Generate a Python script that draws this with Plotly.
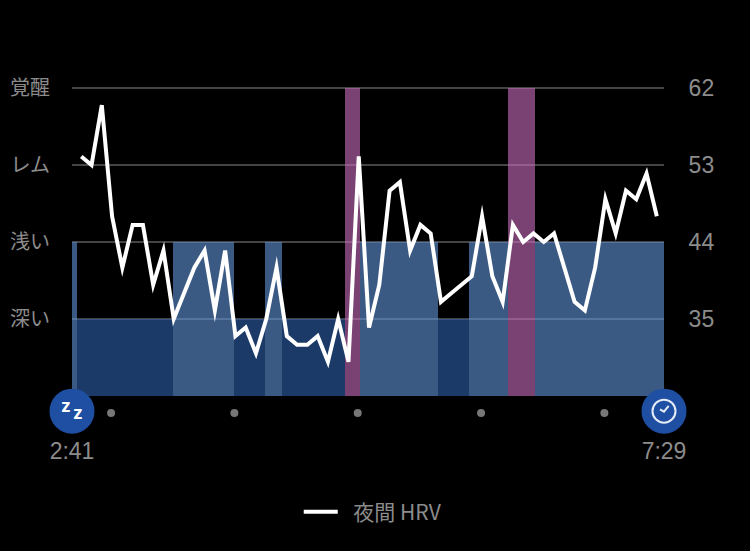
import plotly.graph_objects as go

# minutes since 2:41
hrv_minutes = [4.5, 9.5, 14.5, 19.5, 24.5, 29.5, 34.5, 39.5, 44.5, 49.5,
               54.5, 59.5, 64.5, 69.5, 74.5, 79.5, 84.5, 89.5, 94.5, 99.5,
               104.5, 109.5, 114.5, 119.5, 124.5, 129.5, 134.5, 139.5, 144.5, 149.5,
               154.5, 159.5, 164.5, 169.5, 174.5, 179.5, 184.5, 189.5, 194.5, 199.5,
               204.5, 209.5, 214.5, 219.5, 224.5, 229.5, 234.5, 239.5, 244.5, 249.5,
               254.5, 259.5, 264.5, 269.5, 274.5, 279.5, 284.5]
hrv_values = [54, 53, 60, 47, 41, 46, 46, 39, 43, 35,
              38, 41, 43, 36, 43, 33, 34, 31, 35, 41,
              33, 32, 32, 33, 30, 35, 30, 54, 34, 39,
              50, 51, 43, 46, 45, 37, 38, 39, 40, 47,
              40, 37, 46, 44, 45, 44, 45, 41, 37, 36,
              41, 49, 45, 50, 49, 52, 47]

stage_start = [0, 2.4, 49, 79, 94, 102, 133, 140, 178, 193, 212, 225]
stage_end = [2.4, 49, 79, 94, 102, 133, 140, 178, 193, 212, 225, 288]
stage_names = ['light', 'deep', 'light', 'deep', 'light', 'deep', 'awake',
               'light', 'deep', 'light', 'awake', 'light']

stage_levels = {'deep': 35, 'light': 44, 'awake': 62}
stage_colors = {'deep': 'rgb(47,97,172)', 'light': 'rgb(97,150,218)', 'awake': 'rgb(203,110,190)'}

hour_dots = [19, 79, 139, 199, 259]
y_ticks = [62, 53, 44, 35]
left_labels = ['覚醒', 'レム', '浅い', '深い']
right_labels = ['62', '53', '44', '35']
time_ticks = [0, 288]
time_labels = ['2:41', '7:29']

FONT = 'Noto Sans CJK JP'
GREY = '#8c8c8c'
BASE = 26
TOP = 62.35
BADGE_Y = 24.23
STRIP = 40 / 351  # part of the plot height kept for the badges under the axis

fig = go.Figure()

# Sleep stage blocks
fig.add_trace(go.Bar(
    x=[(a + b) / 2 for a, b in zip(stage_start, stage_end)],
    y=[stage_levels[s] - BASE for s in stage_names],
    base=BASE,
    width=[b - a for a, b in zip(stage_start, stage_end)],
    marker=dict(color=[stage_colors[s] for s in stage_names], line_width=0),
    opacity=0.6,
    showlegend=False,
    hoverinfo='skip'
))

# HRV line
fig.add_trace(go.Scatter(
    x=hrv_minutes,
    y=hrv_values,
    mode='lines',
    name='\u2002夜間 HRV',
    line=dict(color='white', width=4)
))

# Invisible trace so the right axis shows up
fig.add_trace(go.Scatter(
    x=[0, 288],
    y=[BASE, 62],
    yaxis='y2',
    mode='lines',
    line=dict(color='rgba(0,0,0,0)'),
    showlegend=False,
    hoverinfo='skip'
))

# Hour dots under the axis
fig.add_trace(go.Scatter(
    x=hour_dots,
    y=[24] * len(hour_dots),
    yaxis='y3',
    mode='markers',
    marker=dict(color='#777777', size=8),
    cliponaxis=False,
    showlegend=False,
    hoverinfo='skip'
))

# Start and end badges
fig.add_trace(go.Scatter(
    x=time_ticks,
    y=[BADGE_Y, BADGE_Y],
    yaxis='y3',
    mode='markers',
    marker=dict(color='#1f4fa3', size=45),
    cliponaxis=False,
    showlegend=False,
    hoverinfo='skip'
))

# Clock icon
fig.add_trace(go.Scatter(
    x=[288],
    y=[BADGE_Y],
    yaxis='y3',
    mode='markers',
    marker=dict(color='rgba(0,0,0,0)', size=23, line=dict(color='#e4ebf7', width=2)),
    cliponaxis=False,
    showlegend=False,
    hoverinfo='skip'
))
fig.add_shape(
    type='path',
    xref='paper',
    yref='paper',
    path='M 0.9932 0.0761 L 1.0 0.0692 L 1.0079 0.0855',
    line=dict(color='#e4ebf7', width=2)
)

# zZ icon
fig.add_annotation(x=0, y=BADGE_Y, xref='x', yref='y3', text='<b>z</b>', showarrow=False,
                   xshift=-6, yshift=5, font=dict(family='Inter', size=17, color='white'))
fig.add_annotation(x=0, y=BADGE_Y, xref='x', yref='y3', text='<b>z</b>', showarrow=False,
                   xshift=6, yshift=-2, font=dict(family='Inter', size=17, color='white'))

fig.update_layout(
    width=750,
    height=551,
    margin=dict(l=72, r=86, t=85, b=115),
    paper_bgcolor='black',
    plot_bgcolor='rgba(0,0,0,0)',
    barmode='overlay',
    bargap=0,
    font=dict(family=FONT, color=GREY, size=20),
    xaxis=dict(
        automargin=False,
        range=[0, 288],
        tickvals=time_ticks,
        ticktext=time_labels,
        ticks='outside',
        ticklen=34,
        tickcolor='rgba(0,0,0,0)',
        showgrid=False,
        zeroline=False,
        showline=False,
        tickfont=dict(family='Liberation Sans', size=23, color=GREY)
    ),
    yaxis=dict(
        automargin=False,
        domain=[STRIP, 1],
        range=[BASE, TOP],
        tickvals=y_ticks,
        ticktext=left_labels,
        ticks='outside',
        ticklen=17,
        tickcolor='rgba(0,0,0,0)',
        gridcolor='#444444',
        gridwidth=1.5,
        zeroline=False,
        showline=False,
        tickfont=dict(size=20, color=GREY)
    ),
    yaxis2=dict(
        automargin=False,
        overlaying='y',
        side='right',
        range=[BASE, TOP],
        tickvals=y_ticks,
        ticktext=right_labels,
        ticks='outside',
        ticklen=19,
        tickcolor='rgba(0,0,0,0)',
        showgrid=False,
        zeroline=False,
        showline=False,
        tickfont=dict(family='Liberation Sans', size=23, color=GREY)
    ),
    yaxis3=dict(
        automargin=False,
        domain=[0, STRIP],
        range=[21.32, BASE],
        visible=False
    ),
    legend=dict(
        orientation='h',
        x=0.508,
        y=-0.2165,
        xanchor='center',
        yanchor='middle',
        itemwidth=34,
        font=dict(size=21, color=GREY)
    )
)

# page without the default body margin, sharp line joins like the original
fig.write_html(
    "out.html",
    config=dict(displayModeBar=False),
    post_script=(
        "document.body.style.margin='0';document.body.style.background='black';"
        "var s=document.createElement('style');"
        "s.textContent='.js-line{stroke-linejoin:miter!important;stroke-miterlimit:6!important}';"
        "document.head.appendChild(s);"
    )
)
